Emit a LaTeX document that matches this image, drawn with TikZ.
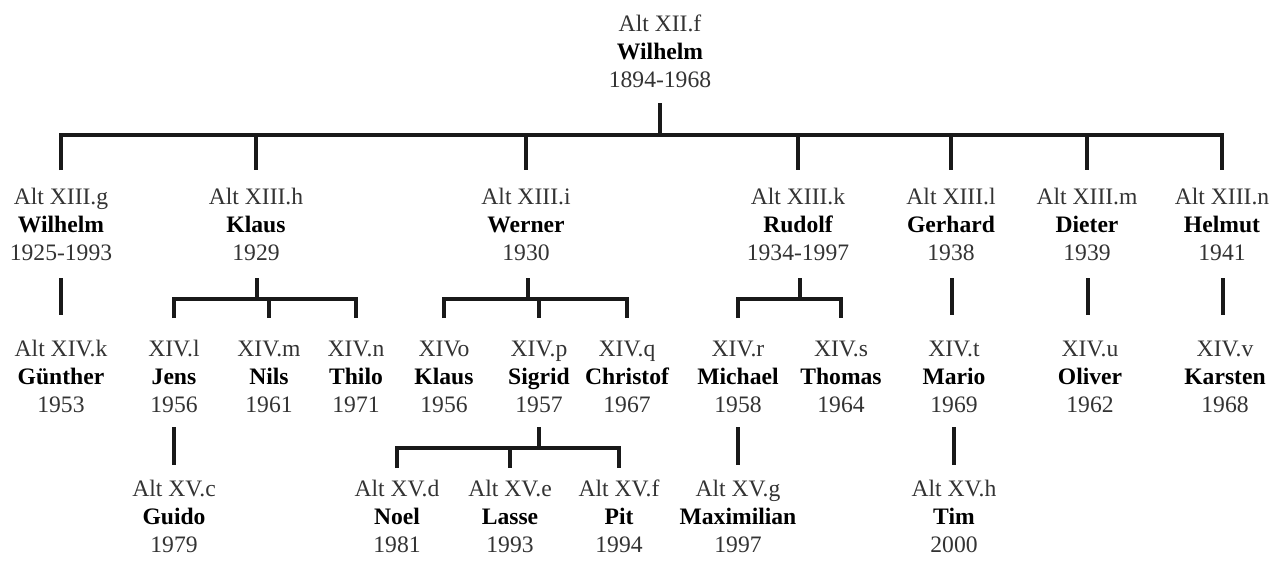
\documentclass[tikz,border=0pt]{standalone}
\usepackage{fontspec}
\setmainfont{Liberation Serif}
\usetikzlibrary{calc}
\newcommand\ptxt[3]{#1\strut\\\textbf{\color{black}#2}\strut\\#3\strut}
\begin{document}
\begin{tikzpicture}[x=1pt,y=-1pt,
  person/.style={align=center,inner sep=0pt,text=black!80,font=\fontsize{23.6}{28}\selectfont},
  conn/.style={line width=3.2pt,black!90}]
\useasboundingbox[fill=white] (0,0) rectangle (1288,560);
% generation XII
\node[person] (top) at (660,54) {\ptxt{Alt XII.f}{Wilhelm}{1894-1968}};
% generation XIII
\node[person] (g) at (61,227)  {\ptxt{Alt XIII.g}{Wilhelm}{1925-1993}};
\node[person] (h) at (256,227) {\ptxt{Alt XIII.h}{Klaus}{1929}};
\node[person] (i) at (526,227) {\ptxt{Alt XIII.i}{Werner}{1930}};
\node[person] (k) at (798,227) {\ptxt{Alt XIII.k}{Rudolf}{1934-1997}};
\node[person] (l) at (951,227) {\ptxt{Alt XIII.l}{Gerhard}{1938}};
\node[person] (m) at (1087,227) {\ptxt{Alt XIII.m}{Dieter}{1939}};
\node[person] (n) at (1222,227) {\ptxt{Alt XIII.n}{Helmut}{1941}};
% generation XIV
\node[person] (gk) at (61,379)  {\ptxt{Alt XIV.k}{Günther}{1953}};
\node[person] (hl) at (174,379) {\ptxt{XIV.l}{Jens}{1956}};
\node[person] (hm) at (269,379) {\ptxt{XIV.m}{Nils}{1961}};
\node[person] (hn) at (356,379) {\ptxt{XIV.n}{Thilo}{1971}};
\node[person] (io) at (444,379) {\ptxt{XIVo}{Klaus}{1956}};
\node[person] (ip) at (539,379) {\ptxt{XIV.p}{Sigrid}{1957}};
\node[person] (iq) at (627,379) {\ptxt{XIV.q}{Christof}{1967}};
\node[person] (kr) at (738,379) {\ptxt{XIV.r}{Michael}{1958}};
\node[person] (ks) at (841,379) {\ptxt{XIV.s}{Thomas}{1964}};
\node[person] (lt) at (954,379) {\ptxt{XIV.t}{Mario}{1969}};
\node[person] (mu) at (1090,379) {\ptxt{XIV.u}{Oliver}{1962}};
\node[person] (nv) at (1225,379) {\ptxt{XIV.v}{Karsten}{1968}};
% generation XV
\node[person] (lc) at (174,519) {\ptxt{Alt XV.c}{Guido}{1979}};
\node[person] (pd) at (397,519) {\ptxt{Alt XV.d}{Noel}{1981}};
\node[person] (pe) at (510,519) {\ptxt{Alt XV.e}{Lasse}{1993}};
\node[person] (pf) at (619,519) {\ptxt{Alt XV.f}{Pit}{1994}};
\node[person] (rg) at (738,519) {\ptxt{Alt XV.g}{Maximilian}{1997}};
\node[person] (th) at (954,519) {\ptxt{Alt XV.h}{Tim}{2000}};
% connectors XII -> XIII
\draw[conn] ($(top.center)+(0,49)$) -- ($(top.center)+(0,81)$);
\draw[conn] ($(g.center)+(0,-57)$) |- ($(n.center)+(0,-92)$) -- ($(n.center)+(0,-57)$);
\foreach \c in {h,i,k,l,m}
  \draw[conn] ($(\c.center)+(0,-92)$) -- ($(\c.center)+(0,-57)$);
% XIII -> XIV single children
\foreach \p/\c/\dx in {g/gk/0,l/lt/-2,m/mu/-2,n/nv/-2}
  \draw[conn] ($(\p.center -| \c.center)+(\dx,51)$) -- ($(\c.center)+(\dx,-64)$);
% Klaus family
\draw[conn] ($(h.center)+(1,51)$) -- ($(h.center)+(1,72)$);
\draw[conn] ($(hl.center)+(0,-61)$) |- ($(hn.center)+(0,-80)$) -- ($(hn.center)+(0,-61)$);
\draw[conn] ($(hm.center)+(0,-80)$) -- ($(hm.center)+(0,-61)$);
% Werner family
\draw[conn] ($(i.center)+(2,51)$) -- ($(i.center)+(2,72)$);
\draw[conn] ($(io.center)+(0,-61)$) |- ($(iq.center)+(0,-80)$) -- ($(iq.center)+(0,-61)$);
\draw[conn] ($(ip.center)+(0,-80)$) -- ($(ip.center)+(0,-61)$);
% Rudolf family
\draw[conn] ($(k.center)+(2,51)$) -- ($(k.center)+(2,72)$);
\draw[conn] ($(kr.center)+(0,-61)$) |- ($(ks.center)+(0,-80)$) -- ($(ks.center)+(0,-61)$);
% XIV -> XV single children
\foreach \p/\c in {hl/lc,kr/rg,lt/th}
  \draw[conn] ($(\p.center)+(0,48)$) -- ($(\c.center)+(0,-54)$);
% Sigrid family
\draw[conn] ($(ip.center)+(0,48)$) -- ($(ip.center)+(0,69)$);
\draw[conn] ($(pd.center)+(0,-51)$) |- ($(pf.center)+(0,-71)$) -- ($(pf.center)+(0,-51)$);
\draw[conn] ($(pe.center)+(0,-71)$) -- ($(pe.center)+(0,-51)$);
\end{tikzpicture}
\end{document}
